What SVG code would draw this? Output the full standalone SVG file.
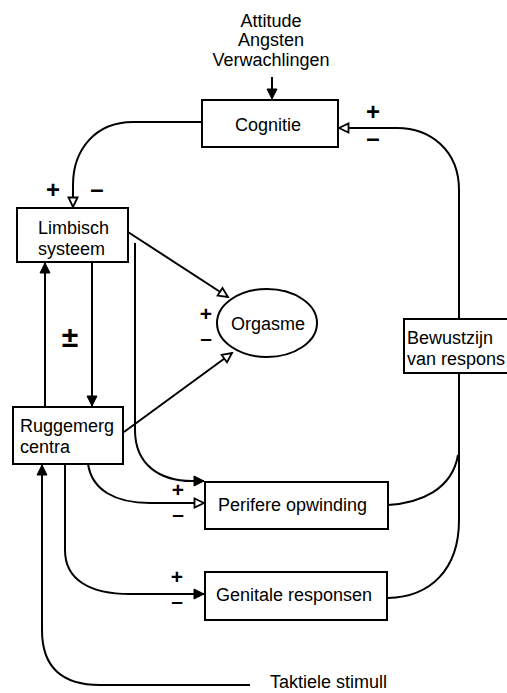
<svg xmlns="http://www.w3.org/2000/svg" width="507" height="693" viewBox="0 0 507 693">
<style>
.box{fill:#fff;stroke:#000;stroke-width:2}
.lbl{font-family:"Liberation Sans",Arial,sans-serif;font-size:18px;fill:#000}
.mid{text-anchor:middle}
.sg{font-family:"Liberation Sans",Arial,sans-serif;font-size:24px;font-weight:bold;fill:#000;text-anchor:middle}
.sm{font-size:21px}
.ln{fill:none;stroke:#000;stroke-width:2}
.af{marker-end:url(#af)}
.ao{marker-end:url(#ao)}
</style>
<defs>
<marker id="af" markerWidth="13" markerHeight="12" refX="11" refY="6" orient="auto" markerUnits="userSpaceOnUse"><path d="M1,1 L11,6 L1,11 Z" fill="#000" stroke="#000" stroke-width="1"/></marker>
<marker id="ao" markerWidth="13" markerHeight="12" refX="11" refY="6" orient="auto" markerUnits="userSpaceOnUse"><path d="M1.5,1.5 L11,6 L1.5,10.5 Z" fill="#fff" stroke="#000" stroke-width="1.8"/></marker>
</defs>
<rect width="507" height="693" fill="#fff"/>
<g id="connectors">
<path class="ln af" d="M272,77 V99"/>
<path class="ln ao" d="M202,122 H133 C95,122 73,150 73,185 V207"/>
<path class="ln ao" d="M459,319 V190 C459,150 430,128 397,128 H339"/>
<path class="ln ao" d="M128,232 L228,297"/>
<path class="ln ao" d="M124,432 L232,353"/>
<path class="ln af" d="M92,262 V406"/>
<path class="ln af" d="M45,407 V263"/>
<path class="ln af" d="M135,243 V430 C135,465 160,481 192,481 H204"/>
<path class="ln ao" d="M88,464 C92,490 115,503 150,503 H204"/>
<path class="ln af" d="M65,464 V550 C65,580 90,594 130,594 H204"/>
<path class="ln af" d="M250,685 H100 C60,685 42,665 42,630 V465"/>
<path class="ln" d="M388,505 C420,503 452,490 458,455"/>
<path class="ln" d="M459,373 V520 C459,570 430,597 388,598"/>
</g>
<g id="inputs">
<text class="lbl mid" x="271" y="27">Attitude</text>
<text class="lbl mid" x="271" y="46">Angsten</text>
<text class="lbl mid" x="271" y="66">Verwachlingen</text>
</g>
<g id="cognitie">
<rect class="box" x="202" y="100" width="136" height="47"/>
<text class="lbl mid" x="268" y="131">Cognitie</text>
</g>
<g id="limbisch">
<rect class="box" x="17" y="208" width="111" height="54"/>
<text class="lbl" x="38" y="234">Limbisch</text>
<text class="lbl" x="38" y="255">systeem</text>
</g>
<g id="orgasme">
<ellipse cx="267" cy="323" rx="50" ry="34" fill="#fff" stroke="#000" stroke-width="2"/>
<text class="lbl mid" x="268" y="330">Orgasme</text>
</g>
<g id="bewustzijn">
<rect class="box" x="404" y="319" width="110" height="54"/>
<text class="lbl" x="407" y="344">Bewustzijn</text>
<text class="lbl" x="407" y="365">van respons</text>
</g>
<g id="ruggemerg">
<rect class="box" x="13" y="407" width="110" height="57"/>
<text class="lbl" x="20" y="432">Ruggemerg</text>
<text class="lbl" x="20" y="453">centra</text>
</g>
<g id="perifere">
<rect class="box" x="205" y="482" width="183" height="47"/>
<text class="lbl" x="218" y="511">Perifere opwinding</text>
</g>
<g id="genitale">
<rect class="box" x="205" y="572" width="182" height="48"/>
<text class="lbl" x="216" y="601">Genitale responsen</text>
</g>
<g id="taktiele">
<text class="lbl" x="270" y="688">Taktiele stimull</text>
</g>
<g id="signs">
<text class="sg" x="373" y="120">+</text>
<text class="sg" x="373" y="146">–</text>
<text class="sg" x="53" y="198">+</text>
<text class="sg" x="97" y="197">–</text>
<text class="sg sm" x="206" y="321">+</text>
<text class="sg sm" x="206" y="345">–</text>
<text class="sg" x="70" y="347" style="font-size:30px">±</text>
<text class="sg sm" x="178" y="497">+</text>
<text class="sg sm" x="178" y="521">–</text>
<text class="sg sm" x="177" y="584">+</text>
<text class="sg sm" x="177" y="608">–</text>
</g>
</svg>
